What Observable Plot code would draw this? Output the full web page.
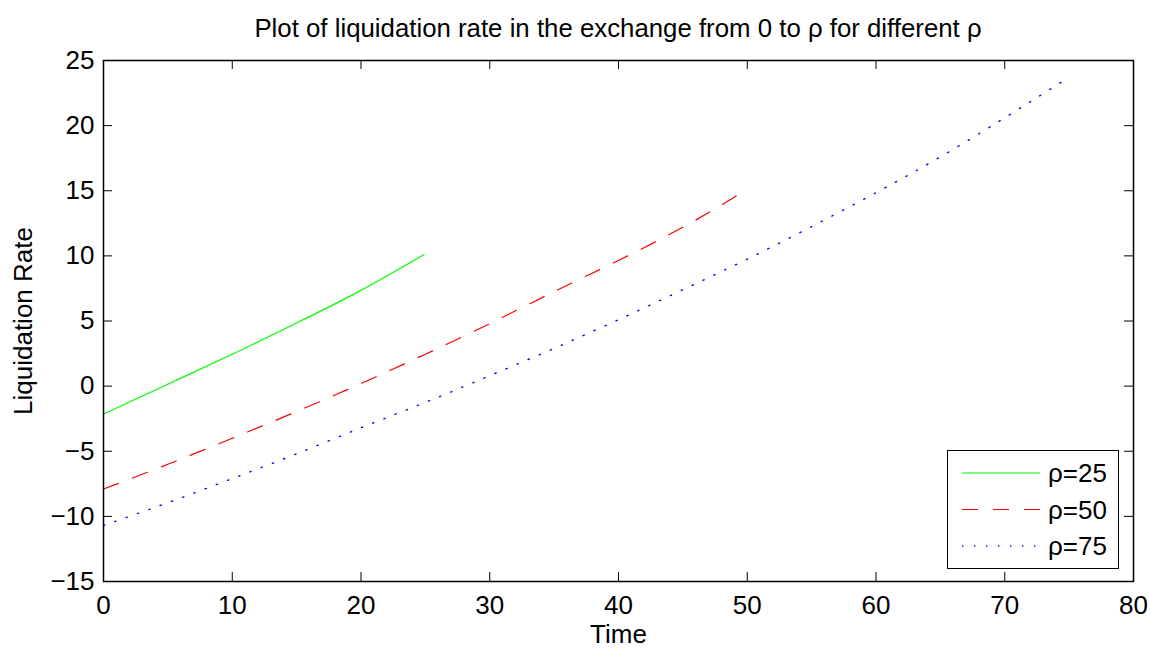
<!DOCTYPE html>
<html>
<head>
<meta charset="utf-8">
<script src="https://cdn.jsdelivr.net/npm/d3@7"></script>
<script src="https://cdn.jsdelivr.net/npm/@observablehq/plot@0.6"></script>
<style>
  html, body { margin: 0; padding: 0; background: #fff; }
  #wrap { position: relative; width: 1151px; height: 650px; font-family: "Liberation Sans", Arial, Helvetica, sans-serif; }
  #title { height: 50px; box-sizing: border-box; padding-top: 16px; padding-left: 85px; text-align: center; font-size: 25.8px; line-height: 1; color: #000; white-space: nowrap; }
  #legend { position: absolute; left: 947px; top: 450px; }
</style>
</head>
<body>
<div id="wrap">
  <div id="title">Plot of liquidation rate in the exchange from 0 to ρ for different ρ</div>
  <div id="chart"></div>
</div>
<script>
// ---- data ----
const timeRho25 = [0, 5, 10, 15, 20, 24.9];
const rateRho25 = [-2.15, 0.15, 2.45, 4.85, 7.35, 10.1];

const timeRho50 = [0, 5, 10, 15, 20, 25, 30, 35, 40, 45, 49.5];
const rateRho50 = [-7.9, -6.0, -4.0, -1.95, 0.2, 2.45, 4.8, 7.25, 9.65, 12.2, 14.8];

const timeRho75 = [0, 5, 10, 15, 20, 25, 30, 35, 40, 45, 50, 55, 60, 65, 70, 74.5];
const rateRho75 = [-10.7, -8.95, -7.1, -5.2, -3.2, -1.25, 0.8, 2.9, 5.1, 7.4, 9.75, 12.25, 14.85, 17.6, 20.6, 23.4];

const legendLabels = ["ρ=25", "ρ=50", "ρ=75"];
const xTicks = [0, 10, 20, 30, 40, 50, 60, 70, 80];
const yTicks = [-15, -10, -5, 0, 5, 10, 15, 20, 25];
const xLabel = "Time";
const yLabel = "Liquidation Rate";

// ---- styles ----
const seriesStyles = [
  {stroke: "#00ff00", strokeWidth: 1.2, strokeDasharray: null},
  {stroke: "#ff0000", strokeWidth: 1.2, strokeDasharray: "16,15"},
  {stroke: "#0000ff", strokeWidth: 1.4, strokeDasharray: "1.3,10.7"}
];

const toRows = (ts, vs) => ts.map((t, i) => ({t, v: vs[i]}));
const series = [toRows(timeRho25, rateRho25), toRows(timeRho50, rateRho50), toRows(timeRho75, rateRho75)];

const W = 1151, H = 600;
const mL = 103, mR = 18, mT = 10, mB = 69;
const innerW = W - mL - mR, innerH = H - mT - mB;
const tickLen = 9;
const fs = 26;
const font = "'Liberation Sans', Arial, Helvetica, sans-serif";

const chart = Plot.plot({
  width: W,
  height: H,
  marginLeft: mL,
  marginRight: mR,
  marginTop: mT,
  marginBottom: mB,
  style: {fontSize: fs + "px", fontFamily: font, color: "#000", background: "#fff", overflow: "visible"},
  x: {domain: [0, 80], ticks: xTicks},
  y: {domain: [-15, 25], ticks: yTicks},
  marks: [
    ...series.map((rows, i) => Plot.line(rows, {
      x: "t", y: "v", curve: "natural",
      stroke: seriesStyles[i].stroke,
      strokeWidth: seriesStyles[i].strokeWidth,
      strokeDasharray: seriesStyles[i].strokeDasharray
    })),
    // inward ticks on all four sides (MATLAB box style)
    Plot.tickX(xTicks, {x: d => d, stroke: "#000", strokeWidth: 1, insetTop: innerH - tickLen}),
    Plot.tickX(xTicks, {x: d => d, stroke: "#000", strokeWidth: 1, insetBottom: innerH - tickLen}),
    Plot.tickY(yTicks, {y: d => d, stroke: "#000", strokeWidth: 1, insetRight: innerW - tickLen}),
    Plot.tickY(yTicks, {y: d => d, stroke: "#000", strokeWidth: 1, insetLeft: innerW - tickLen}),
    Plot.axisX(xTicks, {anchor: "bottom", tickSize: 0, tickPadding: 14, label: null, fontSize: fs}),
    Plot.axisY(yTicks, {anchor: "left", tickSize: 0, tickPadding: 9, label: null, fontSize: fs}),
    Plot.frame({stroke: "#000", strokeWidth: 1.5}),
    Plot.text([xLabel], {text: d => d, frameAnchor: "bottom", textAnchor: "middle", lineAnchor: "middle", dy: 53, fontSize: fs, fill: "#000"}),
    Plot.text([yLabel], {text: d => d, frameAnchor: "left", textAnchor: "middle", lineAnchor: "middle", rotate: -90, dx: -80, fontSize: fs, fill: "#000"})
  ]
});
document.getElementById("chart").appendChild(chart);

// ---- legend (inside plot area, bottom-right) ----
const lgW = 172, lgH = 119;
const lg = d3.select("#wrap").append("svg")
  .attr("id", "legend")
  .attr("width", lgW).attr("height", lgH)
  .style("font-family", font);
lg.append("rect").attr("x", 0.5).attr("y", 0.5).attr("width", lgW - 1).attr("height", lgH - 1)
  .attr("fill", "#fff").attr("stroke", "#000").attr("stroke-width", 1);
const rowY = [23, 59.5, 96];
legendLabels.forEach((lab, i) => {
  lg.append("line")
    .attr("x1", 15).attr("x2", 93).attr("y1", rowY[i]).attr("y2", rowY[i])
    .attr("stroke", seriesStyles[i].stroke)
    .attr("stroke-width", seriesStyles[i].strokeWidth)
    .attr("stroke-dasharray", seriesStyles[i].strokeDasharray);
  lg.append("text")
    .attr("x", 101).attr("y", rowY[i]).attr("dy", "0.35em")
    .attr("font-size", fs).attr("fill", "#000")
    .text(lab);
});
</script>
</body>
</html>
